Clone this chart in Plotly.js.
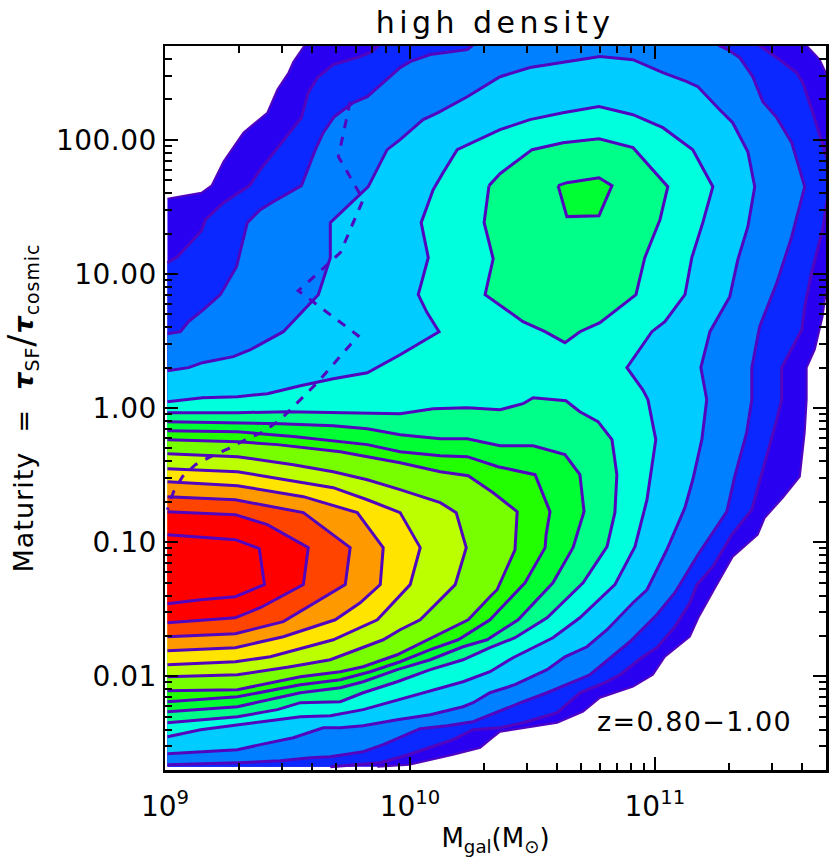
<!DOCTYPE html>
<html><head><meta charset="utf-8">
<script src="https://cdn.plot.ly/plotly-3.0.1.min.js"></script>
<style>html,body{margin:0;padding:0;background:#fff}#g{width:830px;height:865px}
.gtitle{letter-spacing:4.5px}
.annotation-text{letter-spacing:1.4px}
.ytick text{letter-spacing:.5px}
.g-ytitle text{letter-spacing:1px}
</style>
</head><body><div id="g"></div>
<script>
// log10(M_gal / Msun) and log10(maturity) along each density contour, outermost to innermost
const c1x=[9.010,9.149,9.190,9.239,9.320,9.418,9.459,9.504,9.524,9.569,9.569,11.620,11.620,11.673,11.702,11.734,11.734,11.698,11.685,11.653,11.620,11.620,11.612,11.592,11.522,11.449,11.420,11.318,11.253,11.180,11.143,11.041,10.992,10.911,10.776,10.707,10.601,10.368,10.327,10.287,10.176,9.997,9.867];
const c1y=[1.561,1.605,1.658,1.837,2.053,2.202,2.374,2.500,2.582,2.701,2.746,2.746,2.701,2.597,2.485,2.485,.860,.860,.681,.435,.301,.062,-.184,-.512,-.669,-.818,-.945,-1.109,-1.317,-1.556,-1.705,-1.855,-1.989,-2.078,-2.160,-2.264,-2.347,-2.414,-2.473,-2.533,-2.585,-2.660,-2.675];
const c2x=[9.010,9.051,9.149,9.165,9.239,9.345,9.389,9.471,9.557,9.585,9.622,9.687,9.797,9.838,9.871,9.871,11.428,11.428,11.498,11.579,11.604,11.645,11.685,11.702,11.734,11.734,11.702,11.685,11.640,11.612,11.600,11.518,11.518,11.498,11.449,11.396,11.314,11.237,11.172,11.143,11.082,11.008,10.951,10.858,10.796,10.694,10.601,10.462,10.368,10.327,10.258,10.176,9.993,9.879,9.675];
const c2y=[1.083,1.128,1.322,1.404,1.531,1.658,1.777,1.963,2.165,2.351,2.463,2.560,2.620,2.650,2.701,2.746,2.746,2.701,2.612,2.500,2.426,2.202,1.978,1.866,1.866,1.531,1.531,1.330,1.009,.755,.584,.301,.062,-.087,-.408,-.758,-.945,-1.183,-1.317,-1.452,-1.631,-1.787,-1.855,-1.989,-2.048,-2.123,-2.272,-2.347,-2.384,-2.391,-2.399,-2.473,-2.585,-2.645,-2.675];
const c3x=[9.010,9.063,9.096,9.157,9.226,9.292,9.336,9.389,9.442,9.557,9.614,9.646,9.691,9.769,9.826,9.907,9.960,10.001,10.083,10.234,10.254,10.254,11.265,11.265,11.298,11.347,11.400,11.441,11.498,11.559,11.612,11.559,11.498,11.428,11.396,11.396,11.375,11.326,11.294,11.176,11.082,11.008,10.898,10.735,10.560,10.462,10.327,10.258,10.152,10.042,9.891,9.809,9.675,9.593,9.471,9.296,9.010];
const c3y=[.554,.569,.644,.733,.845,1.054,1.382,1.479,1.538,1.658,1.926,2.053,2.172,2.277,2.321,2.448,2.538,2.582,2.635,2.672,2.701,2.746,2.746,2.701,2.672,2.612,2.470,2.284,2.165,1.978,1.650,1.277,.934,.606,.301,.062,-.184,-.512,-.773,-1.094,-1.377,-1.541,-1.743,-1.989,-2.123,-2.190,-2.287,-2.339,-2.369,-2.391,-2.510,-2.563,-2.600,-2.608,-2.630,-2.645,-2.660];
const c4x=[9.010,9.096,9.153,9.279,9.349,9.483,9.626,9.675,9.675,9.785,9.830,9.907,9.960,10.054,10.115,10.234,10.368,10.490,10.625,10.776,10.911,11.033,11.131,11.176,11.265,11.318,11.380,11.408,11.380,11.339,11.306,11.225,11.188,11.212,11.192,11.155,11.123,11.049,10.968,10.911,10.805,10.723,10.633,10.560,10.429,10.327,10.258,10.217,10.083,9.948,9.809,9.716,9.646,9.524,9.389,9.296,9.010];
const c4y=[.278,.301,.338,.383,.435,.569,.845,1.121,1.382,1.576,1.650,1.926,2.001,2.150,2.202,2.321,2.470,2.538,2.575,2.620,2.597,2.500,2.433,2.396,2.224,2.127,1.911,1.650,1.352,1.106,.830,.569,.301,.062,-.236,-.535,-.743,-1.057,-1.355,-1.452,-1.653,-1.780,-1.855,-1.951,-2.063,-2.123,-2.197,-2.227,-2.287,-2.324,-2.369,-2.384,-2.384,-2.458,-2.510,-2.548,-2.578];
const c5x=[9.010,9.153,9.296,9.418,9.553,9.687,9.826,9.960,10.119,10.070,10.034,10.075,10.046,10.095,10.136,10.193,10.368,10.490,10.625,10.772,10.911,11.033,11.155,11.237,11.196,11.151,11.123,11.041,10.988,10.886,10.951,10.972,11.004,10.968,10.919,10.837,10.694,10.584,10.421,10.327,10.217,10.054,9.948,9.809,9.675,9.553,9.459,9.296,9.145,9.010];
const c5y=[.047,.077,.084,.107,.166,.218,.263,.397,.569,.711,.845,1.121,1.382,1.628,1.755,1.926,2.075,2.150,2.202,2.247,2.187,2.090,1.926,1.650,1.382,1.121,.845,.644,.569,.301,.136,.062,-.236,-.684,-1.034,-1.317,-1.564,-1.713,-1.862,-1.966,-2.041,-2.123,-2.175,-2.249,-2.294,-2.302,-2.324,-2.361,-2.399,-2.451];
const c6x=[9.010,9.296,9.500,9.716,9.826,9.960,10.095,10.234,10.368,10.462,10.503,10.637,10.694,10.768,10.825,10.845,10.837,10.805,10.707,10.560,10.429,10.327,10.217,10.083,9.948,9.809,9.716,9.553,9.459,9.296,9.010];
const c6y=[-.035,-.035,-.028,-.035,-.042,-.042,-.005,.002,-.013,.032,.077,.054,-.028,-.102,-.236,-.497,-.780,-1.034,-1.303,-1.564,-1.713,-1.787,-1.877,-1.951,-2.041,-2.123,-2.190,-2.197,-2.249,-2.302,-2.347];
const c6TopX=[10.323,10.368,10.499,10.625,10.772,10.911,11.053,11.021,10.959,10.923,10.776,10.694,10.633,10.552,10.462,10.307,10.340,10.303,10.323];
const c6TopY=[1.658,1.747,1.926,1.978,2.008,1.941,1.650,1.404,1.121,.845,.636,.569,.487,.569,.644,.845,1.113,1.382,1.658];
const c7x=[9.010,9.296,9.471,9.687,9.826,9.960,10.124,10.234,10.368,10.503,10.633,10.694,10.711,10.682,10.666,10.584,10.442,10.315,10.217,10.083,9.948,9.809,9.716,9.553,9.296,9.010];
const c7y=[-.102,-.110,-.117,-.132,-.154,-.199,-.229,-.229,-.281,-.281,-.348,-.497,-.773,-.945,-1.041,-1.303,-1.579,-1.728,-1.780,-1.877,-1.951,-2.041,-2.085,-2.123,-2.227,-2.264];
const c7TopX=[10.605,10.641,10.772,10.825,10.772,10.641,10.605];
const c7TopY=[1.658,1.680,1.717,1.658,1.434,1.427,1.658];
const c8x=[9.010,9.296,9.524,9.716,9.826,9.960,10.124,10.234,10.360,10.511,10.572,10.556,10.552,10.470,10.327,10.197,10.083,9.960,9.838,9.716,9.553,9.296,9.010];
const c8y=[-.169,-.177,-.213,-.251,-.273,-.326,-.356,-.363,-.438,-.497,-.773,-.945,-1.041,-1.303,-1.579,-1.728,-1.802,-1.892,-1.966,-2.026,-2.063,-2.153,-2.190];
const c9x=[9.010,9.296,9.459,9.716,9.960,10.124,10.238,10.340,10.438,10.429,10.356,10.327,10.238,10.070,9.948,9.809,9.716,9.553,9.296,9.010];
const c9y=[-.236,-.251,-.273,-.326,-.408,-.475,-.505,-.632,-.773,-1.057,-1.355,-1.407,-1.579,-1.728,-1.840,-1.929,-1.966,-2.004,-2.100,-2.108];
const c10x=[9.010,9.296,9.524,9.687,9.826,9.960,10.124,10.189,10.230,10.185,10.042,9.960,9.891,9.838,9.756,9.675,9.512,9.296,9.010];
const c10y=[-.341,-.363,-.423,-.475,-.535,-.609,-.706,-.780,-1.041,-1.317,-1.579,-1.653,-1.728,-1.765,-1.817,-1.877,-1.929,-1.989,-2.004];
const c11x=[9.010,9.296,9.565,9.687,9.826,9.960,10.042,10.001,9.867,9.687,9.430,9.287,9.010];
const c11y=[-.453,-.475,-.557,-.594,-.684,-.780,-1.041,-1.317,-1.579,-1.728,-1.855,-1.892,-1.914];
const c12x=[9.010,9.296,9.565,9.785,9.891,9.879,9.797,9.695,9.483,9.287,9.010];
const c12y=[-.550,-.579,-.661,-.780,-1.041,-1.317,-1.452,-1.579,-1.705,-1.787,-1.810];
const c13x=[9.010,9.287,9.565,9.756,9.736,9.565,9.483,9.287,9.010];
const c13y=[-.661,-.684,-.780,-1.041,-1.317,-1.504,-1.593,-1.683,-1.705];
const c14x=[9.010,9.287,9.418,9.585,9.565,9.389,9.287,9.010];
const c14y=[-.773,-.795,-.870,-1.041,-1.317,-1.489,-1.564,-1.601];
const c15x=[9.010,9.287,9.385,9.406,9.287,9.145,9.010];
const c15y=[-.945,-.982,-1.049,-1.317,-1.407,-1.429,-1.459];
// dashed relation
const dashX=[9.756,9.744,9.708,9.809,9.736,9.716,9.573,9.544,9.789,9.622,9.520,9.471,9.402,9.336,9.259,9.186,9.124,9.071,9.035,9.010];
const dashY=[2.284,2.187,1.874,1.553,1.233,1.158,.920,.875,.539,.189,.002,-.087,-.177,-.229,-.303,-.363,-.423,-.512,-.624,-.758];

const contourX=[c1x,c2x,c3x,c4x,c5x,c6x,c6TopX,c7x,c7TopX,c8x,c9x,c10x,c11x,c12x,c13x,c14x,c15x];
const contourY=[c1y,c2y,c3y,c4y,c5y,c6y,c6TopY,c7y,c7TopY,c8y,c9y,c10y,c11y,c12y,c13y,c14y,c15y];
const contourColors=['#2a00f0','#0a28ff','#0080ff','#00ccff','#00ffdd','#00ff88','#00ff88','#00ff33','#00ff33','#22ff00','#77ff00','#bbff00','#ffe400','#ff9900','#ff4400','#ff0000','#ff0000'];
const lineColor='#5205bf';

const xTickVals=[1e9,1e10,1e11];
const xTickText=['10<sup>9</sup>','10<sup>10</sup>','10<sup>11</sup>'];
const yTickVals=[0.01,0.1,1,10,100];
const yTickText=['0.01','0.10','1.00','10.00','100.00'];
const xMinor=[2e9,3e9,4e9,5e9,6e9,7e9,8e9,9e9,2e10,3e10,4e10,5e10,6e10,7e10,8e10,9e10,2e11,3e11,4e11];
const yMinor=[];
[0.001,0.01,0.1,1,10,100].forEach(d=>{[2,3,4,5,6,7,8,9].forEach(m=>{const v=d*m; if(v>=0.002&&v<=500)yMinor.push(v);});});

const pow=a=>a.map(v=>Math.pow(10,v));
const traces=[];
contourX.forEach((xs,i)=>{
  const ys=contourY[i];
  traces.push({type:'scatter',mode:'lines',x:pow(xs.concat([xs[0]])),y:pow(ys.concat([ys[ys.length-1]])),
    fill:'toself',fillcolor:contourColors[i],line:{width:0,color:contourColors[i]},hoverinfo:'skip',showlegend:false});
  traces.push({type:'scatter',mode:'lines',x:pow(xs),y:pow(ys),line:{width:i===0?2:3,color:lineColor},hoverinfo:'skip',showlegend:false});
});
traces.push({type:'scatter',mode:'lines',x:pow(dashX),y:pow(dashY),line:{width:3,color:lineColor,dash:'9px,9px'},hoverinfo:'skip',showlegend:false});

const font='"DejaVu Sans", sans-serif';
const axisBase={type:'log',showgrid:false,zeroline:false,showline:true,linecolor:'#000',linewidth:2.5,mirror:'allticks',
  ticks:'inside',ticklen:13,tickwidth:2,tickcolor:'#000',tickmode:'array',tickfont:{family:font,size:28,color:'#000'}};
const layout={
  width:830,height:865,paper_bgcolor:'#fff',plot_bgcolor:'#fff',showlegend:false,
  margin:{l:164.5,r:3.5,t:46,b:94.5,pad:0},
  title:{text:'high density',font:{family:font,size:30,color:'#000'},x:0.5965,xanchor:'center',xref:'container',y:0.974,yref:'container',yanchor:'middle'},
  xaxis:Object.assign({},axisBase,{range:[9,Math.log10(5e11)],tickvals:xTickVals,ticktext:xTickText,ticklabelstandoff:10,
    minor:{tickmode:'array',tickvals:xMinor,ticks:'inside',ticklen:7,tickwidth:2,tickcolor:'#000',showgrid:false},
    title:{text:'M<sub>gal</sub>(M<sub>\u2299</sub>)',font:{family:font,size:26,color:'#000'},standoff:7}}),
  yaxis:Object.assign({},axisBase,{range:[Math.log10(0.002),Math.log10(500)],tickvals:yTickVals,ticktext:yTickText,
    minor:{tickmode:'array',tickvals:yMinor,ticks:'inside',ticklen:7,tickwidth:2,tickcolor:'#000',showgrid:false},
    title:{text:'Maturity\u00a0\u00a0=\u00a0\u00a0<b><i>\u03c4</i></b><sub>SF</sub><span style="font-size:36px">/</span><b><i>\u03c4</i></b><sub>cosmic</sub>',font:{family:font,size:27,color:'#000'},standoff:27}}),
  annotations:[{text:'z=0.80\u22121.00',xref:'paper',yref:'paper',x:0.951,y:0.0665,xanchor:'right',yanchor:'middle',showarrow:false,font:{family:font,size:27,color:'#000'}}]
};
Plotly.newPlot('g',traces,layout,{displayModeBar:false,staticPlot:true});
</script></body></html>
